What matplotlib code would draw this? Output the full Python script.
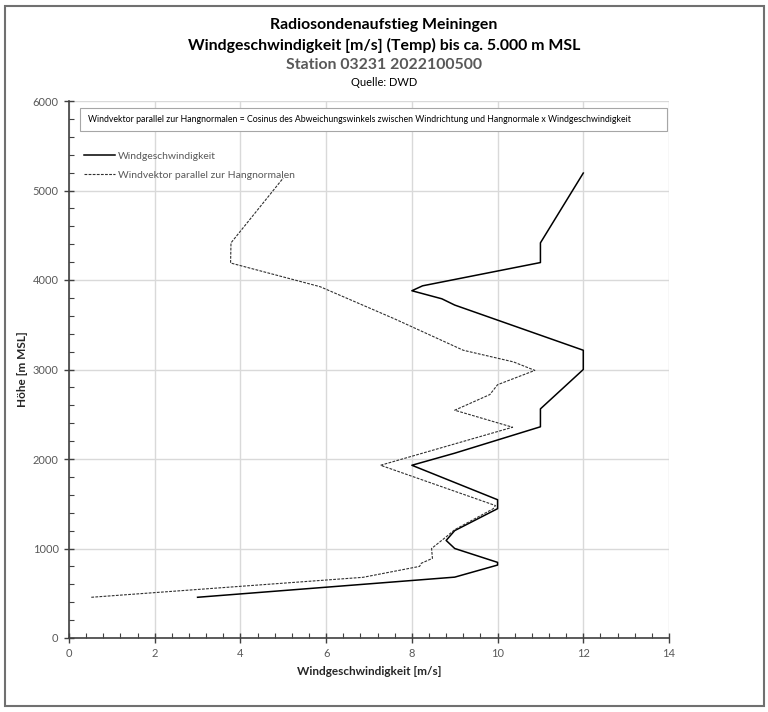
import matplotlib.pyplot as plt
from matplotlib.patches import Rectangle
from matplotlib.ticker import MultipleLocator

plt.rcParams['font.family'] = ['Lato', 'DejaVu Sans']

# Radiosonde Meiningen, 2022100500 - Hoehe [m MSL] und Wind [m/s]
hoehe_wind = [455, 680, 815, 845, 1000, 1090, 1200, 1445, 1545, 1930, 2065,
              2360, 2560, 3000, 3215, 3720, 3790, 3880, 3935, 4195, 4415, 5195]
wind = [3.0, 9.0, 10.0, 10.0, 9.0, 8.8, 9.0, 10.0, 10.0, 8.0, 9.0,
        11.0, 11.0, 12.0, 12.0, 9.0, 8.7, 8.0, 8.25, 11.0, 11.0, 12.0]

hoehe_normal = [455, 678, 800, 835, 890, 1000, 1130, 1210, 1445, 1480, 1930,
                2355, 2545, 2720, 2830, 2990, 3085, 3215, 3565, 3925, 4190,
                4415, 5140]
wind_normal = [0.52, 6.86, 8.18, 8.22, 8.48, 8.46, 8.8, 9.0, 9.9, 9.95, 7.27,
               10.35, 9.0, 9.82, 10.0, 10.87, 10.37, 9.2, 7.6, 5.86, 3.77,
               3.78, 5.0]

fig = plt.figure(figsize=(7.68, 7.12), dpi=100)

# Rahmen wie im Excel-Diagramm
fig.patches.append(Rectangle((5 / 768, 1 - 706 / 712), 759 / 768, 700 / 712,
                             transform=fig.transFigure, fill=False,
                             edgecolor='#707070', lw=1.5))

ax = fig.add_axes([69 / 768, 1 - 638 / 712, 600 / 768, 537 / 712])

ax.plot(wind, hoehe_wind, color='black', lw=1.1, label='Windgeschwindigkeit')
ax.plot(wind_normal, hoehe_normal, color='#303030', lw=0.8,
        dashes=(2.5, 1.2), label='Windvektor parallel zur Hangnormalen')

ax.set_xlim(0, 14)
ax.set_ylim(0, 6000)
ax.xaxis.set_major_locator(MultipleLocator(2))
ax.xaxis.set_minor_locator(MultipleLocator(0.4))
ax.yaxis.set_major_locator(MultipleLocator(1000))
ax.yaxis.set_minor_locator(MultipleLocator(200))
ax.grid(True, which='major', color='#d9d9d9', lw=1)
ax.set_axisbelow(True)

for s in ['top', 'right']:
    ax.spines[s].set_visible(False)
for s in ['left', 'bottom']:
    ax.spines[s].set_color('#404040')
    ax.spines[s].set_linewidth(1.2)

ax.tick_params(which='major', direction='inout', length=7, width=1,
               color='#404040', labelsize=8, labelcolor='#595959', pad=4)
ax.tick_params(which='minor', direction='in', length=3.5, width=0.8,
               color='#404040')

ax.set_xlabel('Windgeschwindigkeit [m/s]', fontsize=8.5, fontweight='bold',
              color='#262626', labelpad=5)
ax.set_ylabel('Höhe [m MSL]', fontsize=8.5, fontweight='bold',
              color='#262626', labelpad=3)

leg = ax.legend(loc='upper left', bbox_to_anchor=(0.018, 0.914), frameon=False,
                fontsize=7.5, handlelength=3.0, handletextpad=0.3,
                labelspacing=0.95, labelcolor='#595959', borderaxespad=0)

# Erklaerungsbox oben im Diagramm
ax.add_patch(Rectangle((0.0183, 0.944), 0.9784, 0.043, transform=ax.transAxes,
                       fc='white', ec='#a6a6a6', lw=0.8, zorder=3))
ax.text(0.0317, 0.9655,
        'Windvektor parallel zur Hangnormalen = Cosinus des Abweichungswinkels '
        'zwischen Windrichtung und Hangnormale x Windgeschwindigkeit',
        transform=ax.transAxes, ha='left', va='center', fontsize=6.3,
        color='black', zorder=4)

fig.text(0.5, 1 - 25 / 712, 'Radiosondenaufstieg Meiningen', ha='center',
         va='center', fontsize=11.4, fontweight='bold', color='black')
fig.text(0.5, 1 - 45 / 712, 'Windgeschwindigkeit [m/s] (Temp) bis ca. 5.000 m MSL',
         ha='center', va='center', fontsize=11.4, fontweight='bold', color='black')
fig.text(0.5, 1 - 65 / 712, 'Station 03231 2022100500', ha='center',
         va='center', fontsize=11.4, fontweight='bold', color='#595959')
fig.text(0.5, 1 - 83 / 712, 'Quelle: DWD', ha='center', va='center',
         fontsize=8, color='black')

fig.savefig('out.png', dpi=100)
